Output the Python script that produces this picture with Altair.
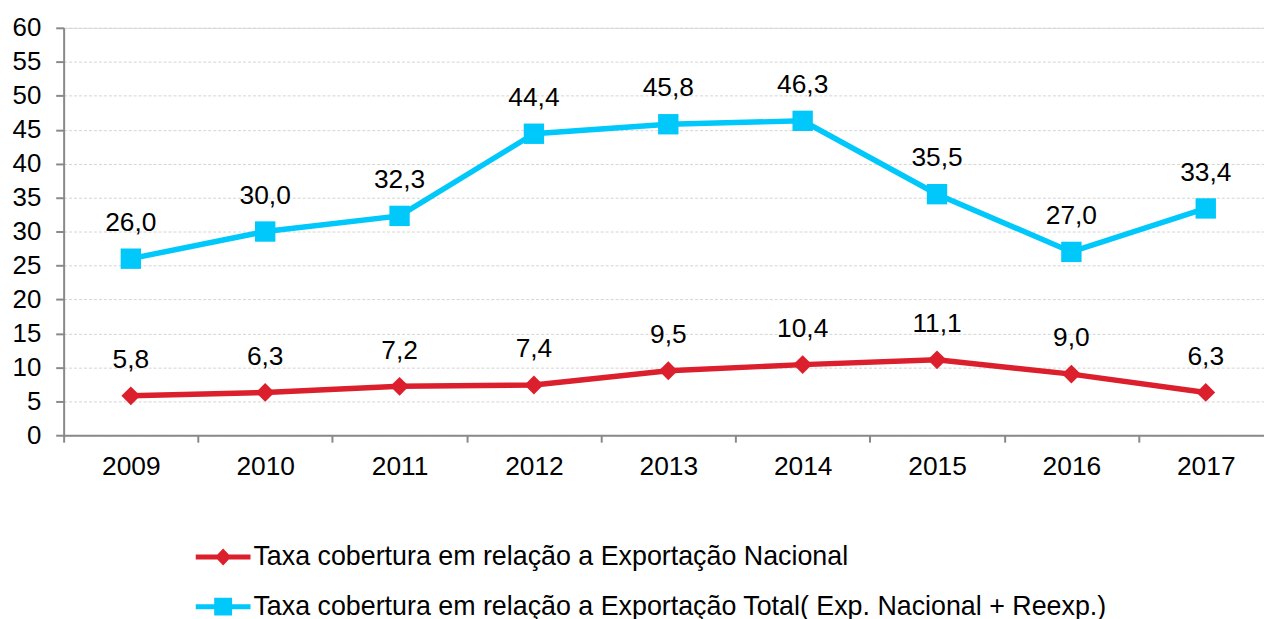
import altair as alt
import pandas as pd

anos = ["2009", "2010", "2011", "2012", "2013", "2014", "2015", "2016", "2017"]
nacional = [5.8, 6.3, 7.2, 7.4, 9.5, 10.4, 11.1, 9.0, 6.3]
total = [26.0, 30.0, 32.3, 44.4, 45.8, 46.3, 35.5, 27.0, 33.4]
series = [
    "Taxa cobertura em relação a Exportação Nacional",
    "Taxa cobertura em relação a Exportação Total( Exp. Nacional + Reexp.)",
]
cores = ["#DC1F2C", "#00C8FA"]
formas = ["diamond", "square"]
tamanhos = [360, 420]
y_ticks = list(range(0, 61, 5))

# legend symbols: a short line with the marker in its middle
leg_shapes = [
    "M-3.06,-0.28H3.06V0.28H-3.06Z M0,-0.95L0.9,0L0,0.95L-0.9,0Z",
    "M-3.06,-0.28H3.06V0.28H-3.06Z M-1,-1H1V1H-1Z",
]

rows = []
for nome, vals in zip(series, [nacional, total]):
    for a, v in zip(anos, vals):
        rows.append({"ano": a, "serie": nome, "valor": v})
df = pd.DataFrame(rows)

FONT = "Liberation Sans"
AX = "#898989"

x_enc = alt.X(
    "ano:N",
    sort=anos,
    scale=alt.Scale(paddingInner=0, paddingOuter=0, range=[0, 1217]),
    axis=alt.Axis(
        title=None, labelAngle=0, labelFontSize=26.5, labelPadding=12,
        tickSize=7, tickWidth=2, tickColor=AX, domainColor=AX, domainWidth=2,
        tickBand="extent", grid=False, labelColor="#000000", labelFont=FONT,
    ),
)
y_enc = alt.Y(
    "valor:Q",
    scale=alt.Scale(domain=[0, 60], nice=False, zero=True),
    axis=alt.Axis(
        title=None, values=y_ticks, labelFontSize=26, labelPadding=15,
        tickSize=8, tickWidth=2, tickColor=AX, domainColor=AX, domainWidth=2,
        gridColor="#D4D4D4", gridDash=[3, 2], gridWidth=1,
        labelColor="#000000", labelFont=FONT,
    ),
)
cor_scale = alt.Scale(domain=series, range=cores)

base = alt.Chart(df)

linhas = base.mark_line(strokeWidth=5.5).encode(
    x=x_enc, y=y_enc,
    stroke=alt.Stroke("serie:N", scale=cor_scale, legend=None),
)

pontos = []
for nome, forma, tam in zip(series, formas, tamanhos):
    pontos.append(
        base.transform_filter(alt.datum.serie == nome)
        .mark_point(filled=True, shape=forma, size=tam, opacity=1, strokeWidth=0)
        .encode(
            x=x_enc, y=y_enc,
            fill=alt.Fill("serie:N", scale=cor_scale, legend=None),
        )
    )

rotulos = base.transform_calculate(
    rotulo="replace(format(datum.valor, '.1f'), '.', ',')"
).mark_text(dy=-36, fontSize=26.5, font=FONT, color="#000000").encode(
    x=x_enc, y=y_enc, text="rotulo:N"
)

leg_props = dict(
    orient="none", legendX=147, legendY=519, direction="vertical", title=None,
    labelFontSize=27, labelFont=FONT, labelColor="#000000", labelLimit=2000,
    symbolSize=324, symbolStrokeWidth=0, labelOffset=17, rowPadding=22,
    padding=0,
)
legenda = base.transform_filter("false").mark_point(filled=True, opacity=1).encode(
    x=x_enc, y=y_enc,
    color=alt.Color("serie:N", scale=cor_scale, legend=alt.Legend(**leg_props)),
    shape=alt.Shape("serie:N", scale=alt.Scale(domain=series, range=leg_shapes),
                    legend=alt.Legend(**leg_props)),
)

chart = alt.layer(linhas, *pontos, rotulos, legenda).properties(
    width=1208, height=410,
    autosize=alt.AutoSizeParams(type="none"),
    padding={"left": 56, "top": 18, "right": 0, "bottom": 183},
).resolve_scale(stroke="independent", fill="independent").configure_view(
    stroke=None
).configure(font=FONT)

chart.save("out.html", embed_options={"renderer": "svg", "actions": False})
